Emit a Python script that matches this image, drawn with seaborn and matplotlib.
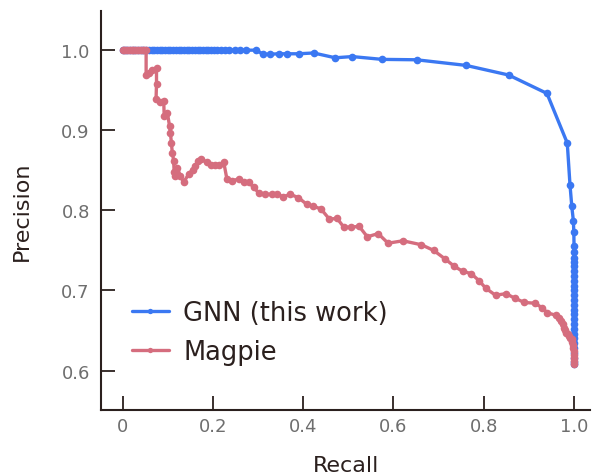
import matplotlib
matplotlib.use("Agg")
import matplotlib.pyplot as plt
import seaborn as sns
import pandas as pd

# Precision-recall curve of the graph network model
gnn_recall = [
    0.0, 0.005, 0.01, 0.016, 0.022, 0.028, 0.034, 0.04, 0.046, 0.052, 0.058,
    0.064, 0.07, 0.076, 0.082, 0.088, 0.094, 0.1, 0.106, 0.112, 0.118, 0.124,
    0.13, 0.136, 0.142, 0.148, 0.154, 0.16, 0.166, 0.172, 0.178, 0.184, 0.19,
    0.196, 0.203, 0.21, 0.218, 0.226, 0.236, 0.248, 0.261, 0.273, 0.296,
    0.311, 0.327, 0.346, 0.364, 0.39, 0.423, 0.471, 0.5085, 0.575, 0.651,
    0.7605, 0.855, 0.94, 0.985, 0.991, 0.995, 0.9985, 0.9995, 1.0, 1.0,
    1.0, 1.0, 1.0, 1.0, 1.0, 1.0, 1.0, 1.0, 1.0, 1.0, 1.0, 1.0, 1.0, 1.0,
    1.0, 1.0, 1.0, 1.0, 1.0, 1.0, 1.0, 1.0, 1.0, 1.0,
]
gnn_precision = [
    1.0, 1.0, 1.0, 1.0, 1.0, 1.0, 1.0, 1.0, 1.0, 1.0, 1.0,
    1.0, 1.0, 1.0, 1.0, 1.0, 1.0, 1.0, 1.0, 1.0, 1.0, 1.0,
    1.0, 1.0, 1.0, 1.0, 1.0, 1.0, 1.0, 1.0, 1.0, 1.0, 1.0,
    1.0, 1.0, 1.0, 1.0, 1.0, 1.0, 1.0, 1.0, 1.0, 1.0,
    0.995, 0.995, 0.9955, 0.9955, 0.9955, 0.9965, 0.9905, 0.992, 0.9885, 0.988,
    0.981, 0.969, 0.946, 0.884, 0.832, 0.805, 0.787, 0.773, 0.755, 0.7475,
    0.741, 0.735, 0.73, 0.724, 0.718, 0.712, 0.706, 0.7, 0.694, 0.688, 0.682,
    0.676, 0.67, 0.664, 0.658, 0.652, 0.646, 0.64, 0.634, 0.628, 0.622,
    0.616, 0.611, 0.608,
]

# Precision-recall curve of the Magpie baseline
magpie_recall = [
    0.0, 0.004, 0.008, 0.012, 0.016, 0.02, 0.024, 0.028, 0.032, 0.036, 0.04,
    0.044, 0.048, 0.052, 0.052, 0.058, 0.066, 0.075, 0.075, 0.074, 0.082,
    0.091, 0.092, 0.099, 0.104, 0.106, 0.108, 0.11, 0.113, 0.114, 0.116,
    0.121, 0.128, 0.135, 0.146, 0.155, 0.161, 0.168, 0.174, 0.187, 0.196,
    0.205, 0.214, 0.224, 0.231, 0.242, 0.257, 0.268, 0.279, 0.29, 0.301,
    0.316, 0.33, 0.342, 0.356, 0.371, 0.389, 0.408, 0.422, 0.439, 0.458,
    0.475, 0.49, 0.505, 0.524, 0.542, 0.566, 0.588, 0.621, 0.662, 0.689,
    0.715, 0.735, 0.753, 0.772, 0.79, 0.804, 0.826, 0.849, 0.87, 0.89,
    0.914, 0.93, 0.941, 0.96, 0.966, 0.971, 0.975, 0.978, 0.981, 0.983,
    0.986, 0.989, 0.992, 0.995, 0.996, 0.997, 0.998, 0.999, 0.999, 1.0,
    1.0, 1.0,
]
magpie_precision = [
    1.0, 1.0, 1.0, 1.0, 1.0, 1.0, 1.0, 1.0, 1.0, 1.0, 1.0,
    1.0, 1.0, 1.0, 0.969, 0.972, 0.975, 0.978, 0.958, 0.939, 0.935,
    0.937, 0.918, 0.922, 0.905, 0.896, 0.884, 0.872, 0.862, 0.848, 0.843,
    0.853, 0.843, 0.835, 0.845, 0.851, 0.855, 0.861, 0.864, 0.86, 0.857,
    0.856, 0.857, 0.86, 0.839, 0.837, 0.839, 0.836, 0.835, 0.829, 0.822,
    0.82, 0.82, 0.82, 0.817, 0.82, 0.816, 0.8075, 0.805, 0.802, 0.789,
    0.79, 0.779, 0.779, 0.78, 0.767, 0.771, 0.759, 0.762, 0.757, 0.75,
    0.739, 0.73, 0.724, 0.721, 0.712, 0.703, 0.694, 0.696, 0.69, 0.685,
    0.684, 0.678, 0.672, 0.669, 0.666, 0.662, 0.658, 0.653, 0.65, 0.647,
    0.645, 0.643, 0.641, 0.639, 0.636, 0.632, 0.628, 0.624, 0.62, 0.616,
    0.612, 0.608,
]

series_names = ["GNN (this work)", "Magpie"]
x_ticks = [0, 0.2, 0.4, 0.6, 0.8, 1.0]
x_tick_labels = ["0", "0.2", "0.4", "0.6", "0.8", "1.0"]
y_ticks = [0.6, 0.7, 0.8, 0.9, 1.0]
y_tick_labels = ["0.6", "0.7", "0.8", "0.9", "1.0"]

df = pd.concat([
    pd.DataFrame({"Recall": gnn_recall, "Precision": gnn_precision,
                  "model": series_names[0]}),
    pd.DataFrame({"Recall": magpie_recall, "Precision": magpie_precision,
                  "model": series_names[1]}),
], ignore_index=True)

sns.set_theme(style="white")
plt.rcParams["font.family"] = ["DejaVu Sans"]

ink = "#2b201e"
tick_grey = "#6e6e6e"
palette = {series_names[0]: "#3b78f2", series_names[1]: "#d56d7e"}

fig = plt.figure(figsize=(5.94, 4.77), dpi=100)
ax = fig.add_axes([0.170, 0.138, 0.823, 0.837])

sns.lineplot(data=df, x="Recall", y="Precision", hue="model",
             hue_order=series_names, palette=palette, sort=False,
             estimator=None, marker="o", markersize=5.5, markeredgewidth=0,
             linewidth=2.4, ax=ax)

ax.set_xlim(-0.048, 1.035)
ax.set_ylim(0.5505, 1.049)
ax.set_xticks(x_ticks)
ax.set_xticklabels(x_tick_labels)
ax.set_yticks(y_ticks)
ax.set_yticklabels(y_tick_labels)

for side in ("top", "right"):
    ax.spines[side].set_visible(False)
for side in ("left", "bottom"):
    ax.spines[side].set_color(ink)
    ax.spines[side].set_linewidth(1.5)

ax.tick_params(axis="both", direction="in", length=10, width=1.3,
               color=ink, labelcolor=tick_grey, labelsize=13,
               bottom=True, left=True)
ax.tick_params(axis="y", pad=8)
ax.tick_params(axis="x", pad=5)

ax.set_xlabel("Recall", fontsize=16, color=ink)
ax.set_ylabel("Precision", fontsize=16, color=ink)
ax.xaxis.set_label_coords(0.501, -0.112)
ax.yaxis.set_label_coords(-0.142, 0.5)

handles, labels = ax.get_legend_handles_labels()
ax.legend(handles, labels, loc="upper left", bbox_to_anchor=(0.063, 0.275),
          frameon=False, fontsize=18.5, borderpad=0, borderaxespad=0,
          handlelength=1.45, handletextpad=0.55, labelspacing=0.48,
          markerscale=0.7, labelcolor=ink)

fig.savefig("out.png", dpi=100)
